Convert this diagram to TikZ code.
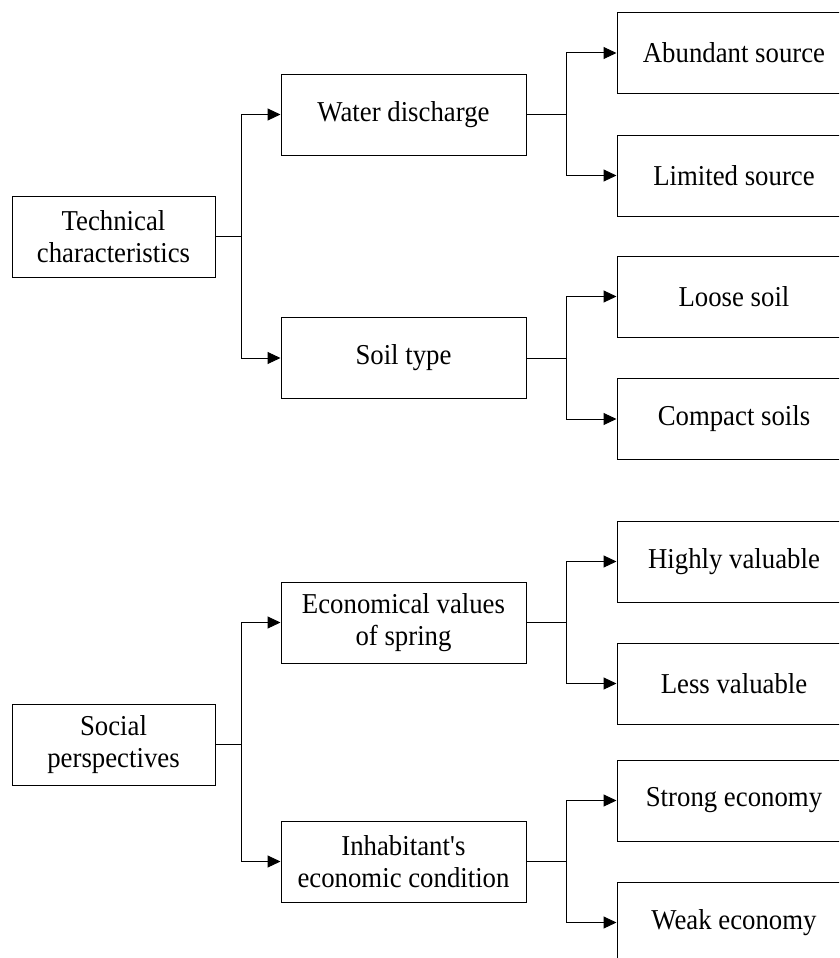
\documentclass[tikz,border=0pt]{standalone}
\usepackage{fontspec}
\setmainfont{Liberation Serif}[FakeStretch=0.93]
\usetikzlibrary{arrows.meta}
\begin{document}
\begin{tikzpicture}[x=1pt,y=-1pt,
  boxL/.style={draw,line width=1pt,minimum width=203pt,minimum height=81pt,inner sep=0pt,align=center,font=\fontsize{28.8}{32}\selectfont},
  boxM/.style={boxL,minimum width=245pt},
  boxR/.style={boxL,minimum width=234pt},
  conn/.style={line width=1pt},
  arr/.style={conn,-{Triangle[length=13pt,width=12pt]}}]
\useasboundingbox (0,0) rectangle (839,958);
\clip (0,0) rectangle (839,958);
% left
\node[boxL] (tech) at (113.5,236.5) {Technical\\characteristics};
\node[boxL] (soc) at (113.5,744.5) {Social\\perspectives};
% middle
\node[boxM] (wd) at (403.5,114.5) {Water discharge};
\node[boxM] (soil) at (403.5,358) {Soil type};
\node[boxM] (econ) at (403.5,622.5) {Economical values\\of spring};
\node[boxM] (inh) at (403.5,861.5) {Inhabitant\textquotesingle s\\economic condition};
% right
\node[boxR] (abs) at (734,53) {Abundant source};
\node[boxR] (lim) at (734,175.5) {Limited source};
\node[boxR] (loo) at (734,296.5) {Loose soil};
\node[boxR] (com) at (734,419) {Compact soils};
\node[boxR] (hig) at (734,561.5) {Highly valuable};
\node[boxR] (les) at (734,683.5) {Less valuable};
\node[boxR] (str) at (734,800.5) {Strong economy};
\node[boxR] (wea) at (734,922.5) {Weak economy};
% junctions
\coordinate (j1) at (241,236.5);
\coordinate (j2) at (241,744.5);
\coordinate (j3) at (566,114.5);
\coordinate (j4) at (566,358);
\coordinate (j5) at (566,622.5);
\coordinate (j6) at (566,861.5);
% connectors
\draw[conn] (tech.east) -- (j1);
\draw[arr] (j1) |- (wd.west);
\draw[arr] (j1) |- (soil.west);
\draw[conn] (soc.east) -- (j2);
\draw[arr] (j2) |- (econ.west);
\draw[arr] (j2) |- (inh.west);
\draw[conn] (wd.east) -- (j3);
\draw[arr] (j3) |- (abs.west);
\draw[arr] (j3) |- (lim.west);
\draw[conn] (soil.east) -- (j4);
\draw[arr] (j4) |- (loo.west);
\draw[arr] (j4) |- (com.west);
\draw[conn] (econ.east) -- (j5);
\draw[arr] (j5) |- (hig.west);
\draw[arr] (j5) |- (les.west);
\draw[conn] (inh.east) -- (j6);
\draw[arr] (j6) |- (str.west);
\draw[arr] (j6) |- (wea.west);
\end{tikzpicture}
\end{document}
